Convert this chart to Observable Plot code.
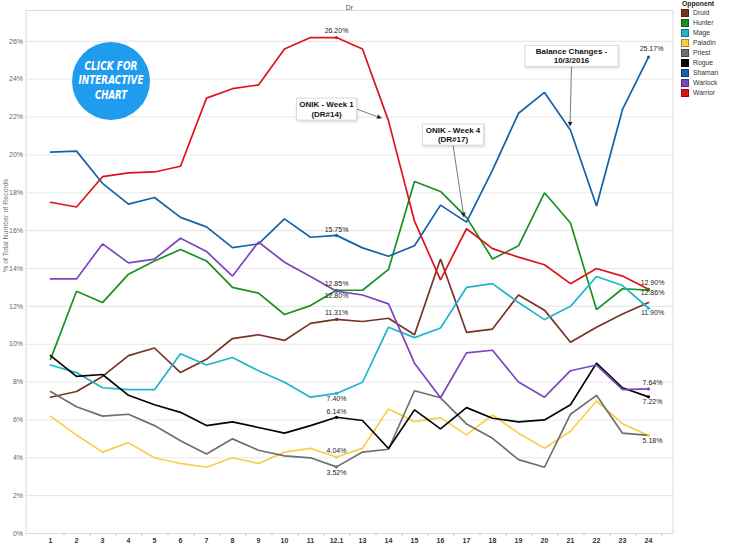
<!DOCTYPE html>
<html>
<head>
<meta charset="utf-8">
<script src="https://cdn.jsdelivr.net/npm/d3@7"></script>
<script src="https://cdn.jsdelivr.net/npm/@observablehq/plot@0.6"></script>
<style>
  body { margin: 0; background: #fff; font-family: "Liberation Sans", Arial, sans-serif; }
  #wrap { position: relative; width: 750px; height: 548px; overflow: hidden; }
  #legend { position: absolute; left: 681px; top: 0px; font-size: 6.8px; color: #333; line-height: 10px; }
  #legend .title { font-weight: bold; color: #222; margin-left: 1px; }
  #legend .row { display: flex; align-items: center; height: 10px; }
  #legend .sw { width: 6px; height: 6px; margin-right: 4px; border: 1px solid rgba(0,0,0,0.35); }
</style>
</head>
<body>
<div id="wrap"><div id="legend"></div></div>
<script>
// ---------- data ----------
const weeks = ["1","2","3","4","5","6","7","8","9","10","11","12.1","13","14","15","16","17","18","19","20","21","22","23","24"];
const opponents = ["Druid","Hunter","Mage","Paladin","Priest","Rogue","Shaman","Warlock","Warrior"];
const colors = ["#773425","#199020","#1fb4cc","#f8cf4a","#6f6f6f","#050505","#1461ad","#7c45bd","#dd141d"];

const druid   = [7.2, 7.5, 8.3, 9.4, 9.8, 8.5, 9.2, 10.3, 10.5, 10.2, 11.1, 11.31, 11.2, 11.37, 10.5, 14.5, 10.63, 10.8, 12.6, 11.8, 10.1, 10.9, 11.6, 12.2];
const hunter  = [9.2, 12.8, 12.2, 13.7, 14.4, 15.0, 14.4, 13.0, 12.7, 11.57, 12.04, 12.85, 12.85, 13.95, 18.6, 18.07, 16.7, 14.5, 15.2, 18.0, 16.4, 11.83, 12.93, 12.86];
const mage    = [8.9, 8.5, 7.7, 7.6, 7.6, 9.5, 8.9, 9.3, 8.6, 7.99, 7.2, 7.40, 7.99, 10.9, 10.35, 10.86, 13.0, 13.2, 12.2, 11.3, 12.0, 13.58, 13.1, 11.90];
const paladin = [6.2, 5.2, 4.3, 4.8, 4.0, 3.7, 3.5, 4.0, 3.7, 4.3, 4.5, 4.04, 4.5, 6.58, 5.91, 6.12, 5.21, 6.26, 5.3, 4.5, 5.4, 7.0, 5.8, 5.18];
const priest  = [7.5, 6.7, 6.2, 6.3, 5.7, 4.9, 4.2, 5.0, 4.4, 4.1, 4.0, 3.52, 4.3, 4.45, 7.54, 7.17, 5.79, 5.03, 3.9, 3.5, 6.3, 7.3, 5.3, 5.18];
const rogue   = [9.4, 8.3, 8.4, 7.3, 6.8, 6.4, 5.7, 5.9, 5.6, 5.3, 5.7, 6.14, 5.97, 4.49, 6.53, 5.53, 6.65, 6.09, 5.9, 6.0, 6.8, 9.0, 7.7, 7.22];
const shaman  = [20.15, 20.2, 18.5, 17.4, 17.75, 16.7, 16.2, 15.1, 15.3, 16.62, 15.65, 15.75, 15.09, 14.65, 15.2, 17.35, 16.45, 19.2, 22.2, 23.3, 21.3, 17.3, 22.4, 25.17];
const warlock = [13.45, 13.45, 15.3, 14.3, 14.5, 15.6, 14.9, 13.6, 15.4, 14.33, 13.58, 12.80, 12.6, 12.13, 9.0, 7.17, 9.54, 9.68, 8.0, 7.2, 8.6, 8.9, 7.6, 7.64];
const warrior = [17.5, 17.25, 18.85, 19.05, 19.1, 19.4, 23.0, 23.5, 23.7, 25.6, 26.2, 26.20, 25.6, 21.8, 16.5, 13.4, 16.1, 15.05, 14.6, 14.2, 13.2, 14.0, 13.6, 12.90];
const seriesValues = [druid, hunter, mage, paladin, priest, rogue, shaman, warlock, warrior];

const yTicks = [0, 2, 4, 6, 8, 10, 12, 14, 16, 18, 20, 22, 24, 26];

const labelSeries = ["Warrior","Shaman","Hunter","Warlock","Druid","Mage","Rogue","Paladin","Priest",
                     "Shaman","Warrior","Hunter","Mage","Warlock","Rogue","Paladin"];
const labelWeeks  = ["12.1","12.1","12.1","12.1","12.1","12.1","12.1","12.1","12.1",
                     "24","24","24","24","24","24","24"];
const labelTexts  = ["26.20%","15.75%","12.85%","12.80%","11.31%","7.40%","6.14%","4.04%","3.52%",
                     "25.17%","12.90%","12.86%","11.90%","7.64%","7.22%","5.18%"];

const annotSeries = ["Warrior","Shaman","Shaman"];
const annotWeeks  = ["14","17","21"];
const annotLines  = [["ONIK - Week 1","(DR#14)"],["ONIK - Week 4","(DR#17)"],["Balance Changes -","10/3/2016"]];

const chartTitle = "Dr";
const yTitle = "% of Total Number of Records";
const legendTitle = "Opponent";
const badgeLines = ["CLICK FOR","INTERACTIVE","CHART"];

// ---------- tables ----------
const rows = [];
opponents.forEach((o, k) => seriesValues[k].forEach((v, i) => rows.push({opponent: o, week: weeks[i], value: v})));
const valueOf = (s, w) => seriesValues[opponents.indexOf(s)][weeks.indexOf(w)];

// label style: offsets (style only)
const labelDy = [-6.5,-6,-6.5,5,-6.5,5.5,-6,-6,6, -8,-6.5,3,5,-6,5,5];
const labelDx = [0,0,0,0,0,0,0,0,0, 3,4,4,4,4,4,4];
const labelRows = labelTexts.map((t, i) => ({opponent: labelSeries[i], week: labelWeeks[i],
  value: valueOf(labelSeries[i], labelWeeks[i]), text: t, dy: labelDy[i], dx: labelDx[i]}));

const chart = Plot.plot({
  width: 750,
  height: 548,
  marginLeft: 25.5,
  marginRight: 77.5,
  marginTop: 10,
  marginBottom: 15,
  style: {fontFamily: "'Liberation Sans', Arial, sans-serif", fontSize: "7px", background: "#fff", overflow: "visible"},
  x: {type: "point", domain: weeks, padding: 0.5, axis: null},
  y: {domain: [0, 27.63], axis: null},
  color: {domain: opponents, range: colors},
  marks: [
    Plot.ruleY(yTicks, {y: d => d, stroke: "#e8e8e8", strokeWidth: 1.1}),
    Plot.frame({stroke: "#dcdcdc"}),
    Plot.ruleX(weeks, {x: d => d, y1: d => 0, y2: d => -0.2, dx: 13.48, stroke: "#cfcfcf"}),
    Plot.axisY(yTicks, {tickSize: 0, tickPadding: 3, tickFormat: d => d + "%", fill: "#666", fontSize: 7, label: null}),
    Plot.axisX({tickSize: 0, tickPadding: 5, fontWeight: "bold", fill: "#333", fontSize: 7, label: null}),
    Plot.text([yTitle], {text: d => d, frameAnchor: "left", rotate: -90, dx: -20, fill: "#777", fontSize: 7}),
    Plot.text([chartTitle], {text: d => d, frameAnchor: "top", dy: -5, fill: "#555", fontSize: 7}),
    ...opponents.map(o => Plot.line(rows.filter(r => r.opponent === o), {x: "week", y: "value", stroke: "opponent", strokeWidth: 1.7, strokeLinejoin: "miter"})),
    Plot.dot(labelRows, {x: "week", y: "value", fill: "opponent", r: 1.6}),
    ...labelRows.map(r => Plot.text([r], {x: "week", y: "value", text: "text", dy: r.dy, dx: r.dx, fill: "#222", fontSize: 7}))
  ]
});

document.getElementById("wrap").appendChild(chart);

// ---------- annotations positioned through the scales ----------
const xs = chart.scale("x"), ys = chart.scale("y");
const svg = d3.select(chart);
// style: box offsets relative to the tip point, box size, tip nudges
const annotStyle = [
  {bx: -61.5, by: -11.3, w: 60, h: 22, tx: -6, ty: -2, from: "right"},
  {bx: -13, by: -87, w: 61, h: 21, tx: -2, ty: -4, from: "bottom"},
  {bx: 1.5, by: -74, w: 93, h: 21, tx: 0, ty: -3, from: "bottom"}
];
const defs = svg.append("defs");
const filt = defs.append("filter").attr("id", "shadow").attr("x", "-20%").attr("y", "-20%").attr("width", "140%").attr("height", "160%");
filt.append("feDropShadow").attr("dx", 0.8).attr("dy", 1.2).attr("stdDeviation", 1.1).attr("flood-color", "#000").attr("flood-opacity", 0.18);

annotLines.forEach((lines, i) => {
  const st = annotStyle[i];
  const px = xs.apply(annotWeeks[i]), py = ys.apply(valueOf(annotSeries[i], annotWeeks[i]));
  const tipX = px + st.tx, tipY = py + st.ty;
  const cx = px + st.bx, cy = py + st.by;
  const g = svg.append("g");
  let sx, sy;
  if (st.from === "right") { sx = cx + st.w / 2; sy = cy; }
  else { sx = cx; sy = cy + st.h / 2; }
  const ang = Math.atan2(tipY - sy, tipX - sx);
  const hl = 5, hw = 2.3;
  const bx = tipX - hl * Math.cos(ang), by = tipY - hl * Math.sin(ang);
  g.append("line").attr("x1", sx).attr("y1", sy).attr("x2", bx).attr("y2", by)
    .attr("stroke", "#7a7a7a").attr("stroke-width", 1);
  g.append("path").attr("d", `M${tipX},${tipY}L${bx - hw * Math.sin(ang)},${by + hw * Math.cos(ang)}L${bx + hw * Math.sin(ang)},${by - hw * Math.cos(ang)}Z`)
    .attr("fill", "#222");
  g.append("rect").attr("x", cx - st.w / 2).attr("y", cy - st.h / 2).attr("width", st.w).attr("height", st.h)
    .attr("fill", "#fff").attr("stroke", "#d4d4d4").attr("stroke-width", 0.8).attr("filter", "url(#shadow)");
  lines.forEach((t, j) => {
    g.append("text").attr("x", cx).attr("y", cy + (j - 0.5) * 9.5).attr("dy", "0.35em")
      .attr("text-anchor", "middle").attr("font-weight", "bold").attr("font-size", 8).attr("fill", "#111")
      .attr("font-family", "'Liberation Sans', Arial, sans-serif").text(t);
  });
});

// ---------- decorative badge ----------
const badge = svg.append("g").attr("transform", "translate(111,81)");
badge.append("circle").attr("r", 39).attr("fill", "#209cef");
const badgeWidths = [53, 65, 32];
badgeLines.forEach((t, j) => {
  badge.append("text").attr("x", 0).attr("y", (j - 1) * 14.2 - 1).attr("dy", "0.36em")
    .attr("text-anchor", "middle").attr("fill", "#fff").attr("font-weight", "bold").attr("font-style", "italic")
    .attr("font-size", 12.2).attr("font-family", "'DejaVu Sans Condensed', 'DejaVu Sans', sans-serif")
    .attr("textLength", badgeWidths[j]).attr("lengthAdjust", "spacingAndGlyphs").text(t);
});

// ---------- legend ----------
const legend = document.getElementById("legend");
const title = document.createElement("div");
title.className = "title"; title.textContent = legendTitle; title.style.height = "8px"; title.style.lineHeight = "8px";
legend.appendChild(title);
opponents.forEach((o, k) => {
  const row = document.createElement("div"); row.className = "row";
  const sw = document.createElement("div"); sw.className = "sw"; sw.style.background = colors[k];
  const tx = document.createElement("span"); tx.textContent = o;
  row.appendChild(sw); row.appendChild(tx); legend.appendChild(row);
});
</script>
</body>
</html>
